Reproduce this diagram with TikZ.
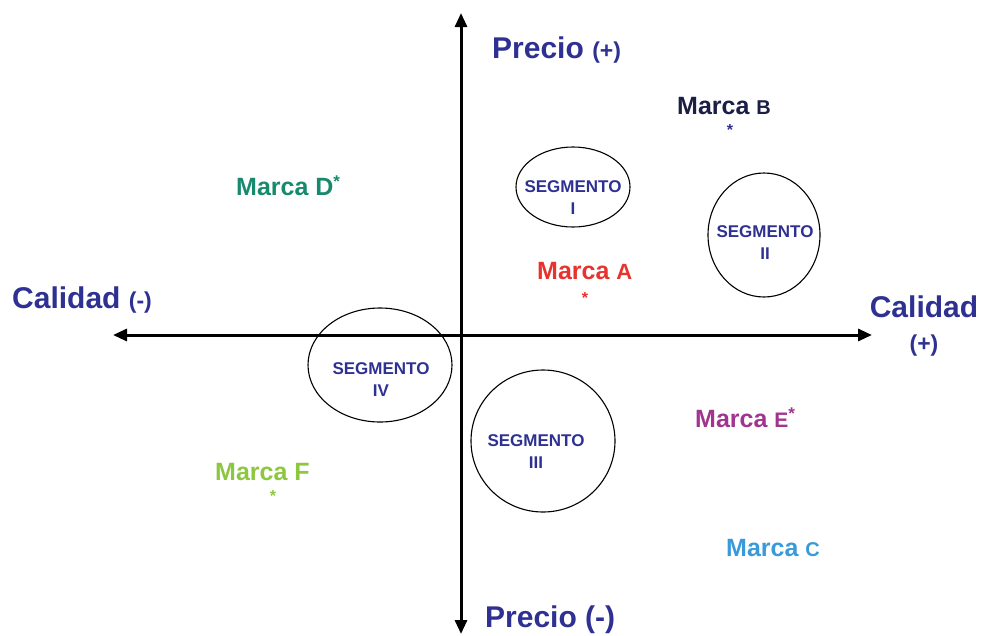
\documentclass[tikz,border=0pt]{standalone}
\usepackage{fontspec}
\setmainfont{Liberation Sans}
\usetikzlibrary{arrows.meta}
\definecolor{navy}{HTML}{2E3192}
\definecolor{darknavy}{HTML}{1B1F45}
\definecolor{tealg}{HTML}{178A6E}
\definecolor{redA}{HTML}{E8322E}
\definecolor{magE}{HTML}{A0358F}
\definecolor{greenF}{HTML}{8DC63F}
\definecolor{blueC}{HTML}{3A9AD9}
\tikzset{
  axis/.style={line width=3pt, {Triangle[length=14pt,width=12pt]}-{Triangle[length=14pt,width=12pt]}},
  segline/.style={line width=1.1pt},
  segtext/.style={text=navy, font=\bfseries\fontsize{17}{22}\selectfont, align=center, inner sep=0pt},
  big/.style={font=\bfseries\fontsize{30}{34}\selectfont, text=navy, inner sep=0pt},
  brand/.style={font=\bfseries\fontsize{25}{28}\selectfont, inner sep=0pt},
  star/.style={font=\bfseries\fontsize{16}{16}\selectfont, inner sep=0pt},
}
\begin{document}
\begin{tikzpicture}[x=1pt,y=-1pt]
\useasboundingbox (0,0) rectangle (982,635);
% axes
\coordinate (vb) at (461,634);
\coordinate (vt) at (461,13);
\coordinate (hr) at (872,335);
\coordinate (hl) at (113,335);
\draw[axis] (vb) -- (vt);
\draw[axis] (hl) -- (hr);
% segments
\draw[segline] (573,187) ellipse [x radius=57, y radius=40];
\draw[segline] (764,235) ellipse [x radius=56, y radius=62];
\draw[segline] (543,441) ellipse [x radius=72, y radius=71];
\draw[segline] (380,365) ellipse [x radius=72, y radius=57];
\node[segtext] (s1) at (573,198) {SEGMENTO\\I};
\node[segtext] (s2) at (765,243) {SEGMENTO\\II};
\node[segtext] (s3) at (536,452) {SEGMENTO\\III};
\node[segtext] (s4) at (381,380) {SEGMENTO\\IV};
% axis labels
\node[big, anchor=west] (pp) at (492,50) {Precio {\fontsize{23}{26}\selectfont (+)}};
\node[big, anchor=west] (pm) at (485,620) {Precio (-)};
\node[big, anchor=west] (cm) at (12,300) {Calidad {\fontsize{23}{26}\selectfont (-)}};
\node[big, align=center] (cp) at (924,326) {Calidad\\{\fontsize{23}{26}\selectfont (+)}};
% brands
\node[brand, text=darknavy, anchor=west] (mb) at (677,106) {Marca {\fontsize{20}{24}\selectfont B}};
\node[star, text=navy] (sb) at (730,130) {*};
\node[brand, text=tealg, anchor=west] (md) at (236,186) {Marca D\raisebox{0.3em}{\fontsize{17}{17}\selectfont *}};
\node[brand, text=redA, anchor=west] (ma) at (537,271) {Marca {\fontsize{22}{24}\selectfont A}};
\node[star, text=redA] (sa) at (585,298) {*};
\node[brand, text=magE, anchor=west] (me) at (695,418) {Marca {\fontsize{21}{24}\selectfont E}\raisebox{0.3em}{\fontsize{17}{17}\selectfont *}};
\node[brand, text=greenF, anchor=west] (mf) at (215,472) {Marca F};
\node[star, text=greenF] (sf) at (273,496) {*};
\node[brand, text=blueC, anchor=west] (mc) at (726,548) {Marca {\fontsize{20}{24}\selectfont C}};
\end{tikzpicture}
\end{document}
